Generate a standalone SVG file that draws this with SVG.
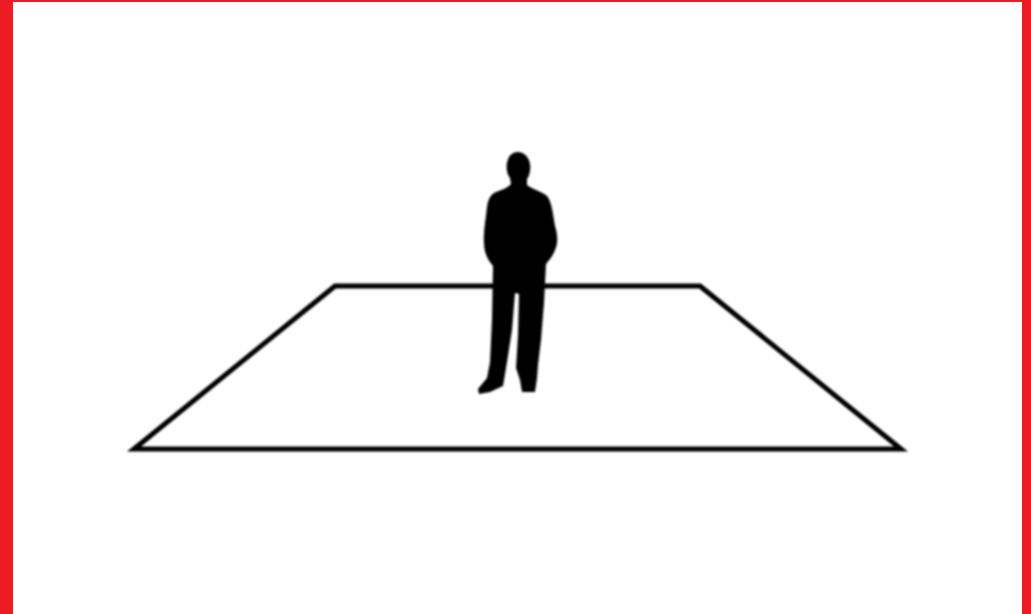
<svg xmlns="http://www.w3.org/2000/svg" width="1031" height="614" viewBox="0 0 1031 614">
<defs><filter id="soft" x="-5%" y="-5%" width="110%" height="110%"><feGaussianBlur stdDeviation="0.8"/></filter></defs>
<style>.border{fill:#ed1c24}.plane{fill:none;stroke:#000;stroke-width:5;stroke-linejoin:miter}.person{fill:#000}</style>
<rect width="1031" height="614" fill="#fff"/>
<g id="frame"><rect class="border" x="0" y="0" width="13" height="614"/><rect class="border" x="0" y="0" width="1031" height="2"/><rect class="border" x="1022" y="0" width="9" height="614"/></g>
<g id="ground-plane" filter="url(#soft)"><path class="plane" d="M134 449L335 286H700L901 449Z"/></g>
<g id="person" filter="url(#soft)"><path class="person" d="M518 152C524 152 529 157 530 164C531 171 529 176 527 179L527 185C532 189 541 191 547 196C552 202 553 215 555 226C558 236 558 243 555 250C553 256 549 260 546 264L544 303L541 340L538 365L537 378L535 392L522 392L520 380L516 368L518 335L519 294L515 293L512 330L507 362L503 386L490 392L479 394L478 389L487 378L490 362L492 320L493 266C488 260 484 253 484 243C483 232 486 218 487 207C488 199 491 194 496 192C502 190 509 187 511 184L510 178C507 174 506 168 507 163C508 156 512 152 518 152Z"/></g>
</svg>
